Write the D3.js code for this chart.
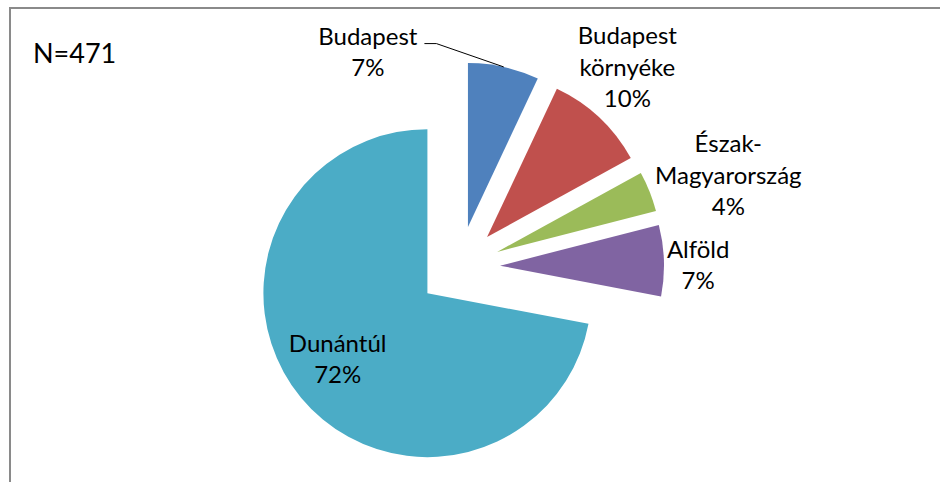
<!DOCTYPE html>
<html>
<head>
<meta charset="utf-8">
<script src="https://cdn.jsdelivr.net/npm/d3@7/dist/d3.min.js"></script>
<style>
    body { margin: 0; background: #fff; }
    text { font-family: Lato, "Open Sans", sans-serif; fill: #000; }
</style>
</head>
<body>
<div id="chart"></div>
<script>
// Data
const regions = ["Budapest", "Budapest környéke", "Észak-Magyarország", "Alföld", "Dunántúl"];
const labelNames = [["Budapest"], ["Budapest", "környéke"], ["Észak-", "Magyarország"], ["Alföld"], ["Dunántúl"]];
const shares = [7, 10, 4, 7, 72];
const sampleSize = 471;
const colors = ["#4F81BD", "#C0504D", "#9BBB59", "#8064A2", "#4BACC6"];

// Layout
const width = 940, height = 482;
const cx = 459, cy = 267;
const radius = 164;
const explode = 41;
const lineHeight = 31.5;
const fontSize = 24;
// small label nudges (Budapest label was moved by hand in the original, hence the leader line)
const labelNudge = [[-148, 22], [-10, -11], [5, 4], [-3, 6], [0, -8]];
const insideLabel = [false, false, false, false, true];

const svg = d3.select("#chart")
    .append("svg")
    .attr("width", width)
    .attr("height", height);

// Chart frame (runs off the right and bottom of the picture)
svg.append("rect")
    .attr("x", 10)
    .attr("y", 8)
    .attr("width", width + 20)
    .attr("height", height + 20)
    .attr("fill", "none")
    .attr("stroke", "#8a8a8a")
    .attr("stroke-width", 2);

svg.append("text")
    .attr("x", 33)
    .attr("y", 63)
    .style("font-size", "27px")
    .text(`N=${sampleSize}`);

const data = regions.map((name, i) => ({ name, lines: labelNames[i], value: shares[i], i }));
const total = d3.sum(shares);

const pie = d3.pie()
    .sort(null)
    .value(d => d.value)
    .startAngle(0)
    .endAngle(2 * Math.PI);

const arc = d3.arc()
    .innerRadius(0)
    .outerRadius(radius);

const arcs = pie(data);

// direction of each slice's bisector
arcs.forEach(a => {
    const mid = (a.startAngle + a.endAngle) / 2;
    a.dir = [Math.sin(mid), -Math.cos(mid)];
    a.ox = cx + explode * a.dir[0];
    a.oy = cy + explode * a.dir[1];
});

const g = svg.append("g");

g.selectAll(".slice")
    .data(arcs)
    .join("path")
    .attr("class", "slice")
    .attr("transform", d => `translate(${d.ox}, ${d.oy})`)
    .attr("d", arc)
    .attr("fill", d => colors[d.data.i]);

// Labels
const labels = svg.selectAll(".label")
    .data(arcs)
    .join("text")
    .attr("class", "label")
    .attr("text-anchor", "middle")
    .style("font-size", fontSize + "px");

labels.each(function(d) {
    const lines = d.data.lines.concat([Math.round(d.data.value / total * 100) + "%"]);
    d.lineCount = lines.length;
    d3.select(this).selectAll("tspan")
        .data(lines)
        .join("tspan")
        .text(t => t);
});

labels.each(function(d) {
    const el = d3.select(this);
    let w = 0;
    el.selectAll("tspan").each(function() { w = Math.max(w, this.getComputedTextLength()); });
    d.textWidth = w;
    const h = d.lineCount * lineHeight;
    let x, y;
    if (insideLabel[d.data.i]) {
        x = d.ox + d.dir[0] * radius * 0.71;
        y = d.oy + d.dir[1] * radius * 0.71;
    } else {
        x = d.ox + d.dir[0] * (radius + 6) + d.dir[0] * w / 2;
        y = d.oy + d.dir[1] * (radius + 6) + d.dir[1] * h / 2;
    }
    x += labelNudge[d.data.i][0];
    y += labelNudge[d.data.i][1] + 8;
    d.lx = x;
    d.ly = y;
    el.selectAll("tspan")
        .attr("x", x)
        .attr("y", (t, j) => y + (j - (d.lineCount - 1) / 2) * lineHeight);
});

// Leader line for the moved Budapest label
const moved = arcs[0];
const firstBaseline = moved.ly - (moved.lineCount - 1) / 2 * lineHeight;
const startX = moved.lx + moved.textWidth / 2 + 7;
svg.append("path")
    .attr("d", d3.line()([
        [startX, firstBaseline - 1],
        [startX + 12, firstBaseline - 1],
        [moved.ox + moved.dir[0] * radius, moved.oy + moved.dir[1] * radius]
    ]))
    .attr("fill", "none")
    .attr("stroke", "#000")
    .attr("stroke-width", 1);
</script>
</body>
</html>
